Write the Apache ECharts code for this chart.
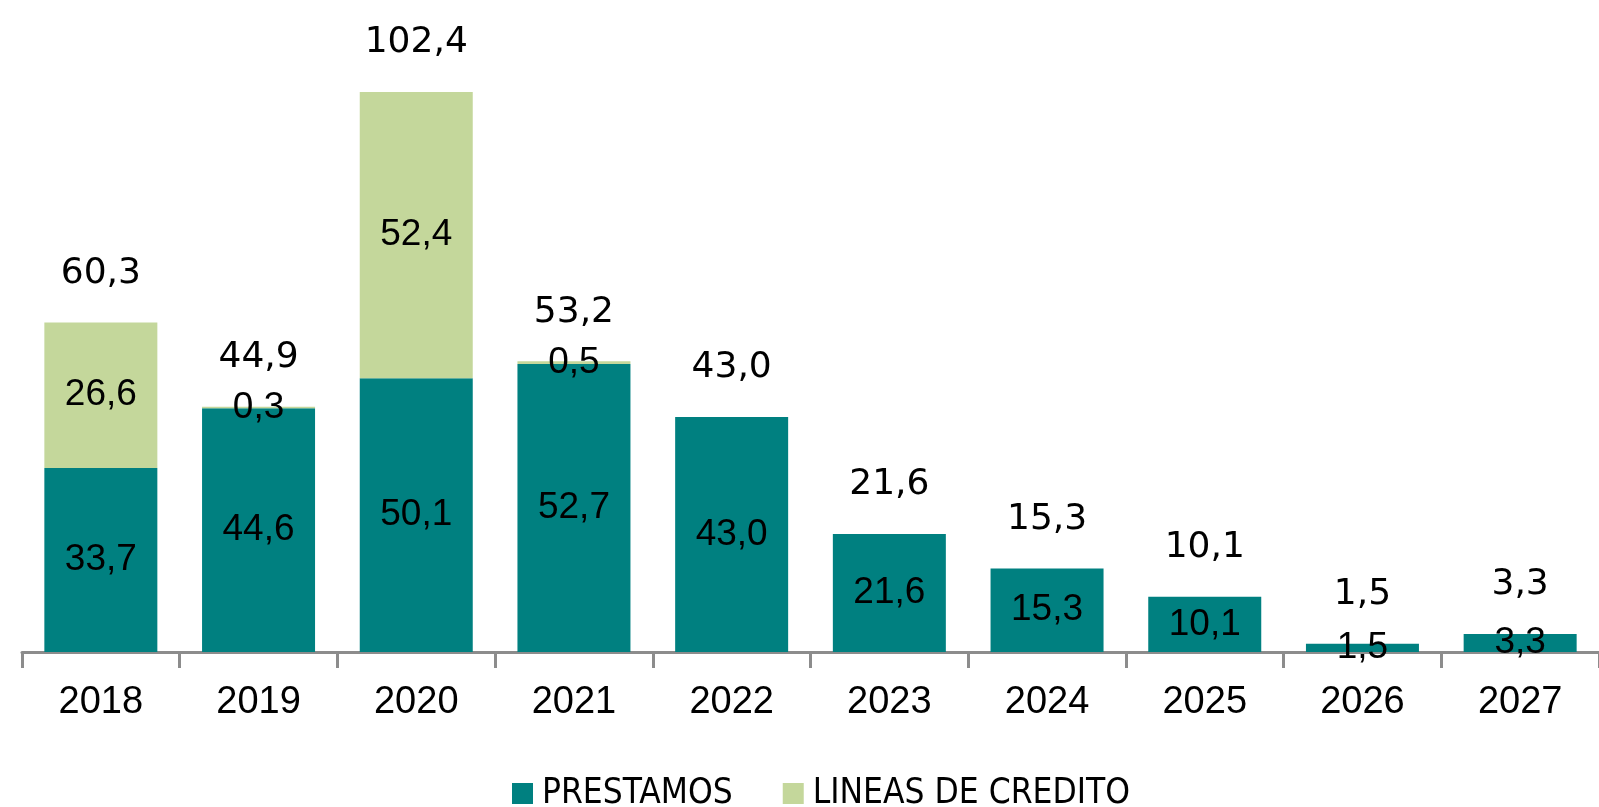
<!DOCTYPE html>
<html>
<head>
    <meta charset="utf-8">
    <title>Prestamos y lineas de credito</title>
    <script src="https://cdn.jsdelivr.net/npm/echarts@6/dist/echarts.min.js"></script>
    <style>
        html, body { margin: 0; padding: 0; background: #fff; }
        #main { width: 1599px; height: 807px; }
    </style>
</head>
<body>
<div id="main"></div>
<script>
    // datos
    var years = ['2018', '2019', '2020', '2021', '2022', '2023', '2024', '2025', '2026', '2027'];
    var prestamos = [33.7, 44.6, 50.1, 52.7, 43.0, 21.6, 15.3, 10.1, 1.5, 3.3];
    var lineas = [26.6, 0.3, 52.4, 0.5, null, null, null, null, null, null];
    var totales = [60.3, 44.9, 102.4, 53.2, 43.0, 21.6, 15.3, 10.1, 1.5, 3.3];

    function coma(v) {
        return v.toFixed(1).replace('.', ',');
    }

    var myChart = echarts.init(document.getElementById('main'));
    var option = {
        animation: false,
        grid: { left: 22, right: -17, top: 51, bottom: 155, containLabel: false },
        legend: {
            data: ['PRESTAMOS', 'LINEAS DE CREDITO'],
            left: 507,
            top: 771,
            icon: 'rect',
            itemWidth: 21,
            itemHeight: 21,
            itemGap: 50,
            textStyle: { fontFamily: '"DejaVu Sans Condensed", "Liberation Sans", sans-serif', fontSize: 35, color: '#000', padding: [0, 0, 0, 4] }
        },
        xAxis: {
            type: 'category',
            data: years,
            axisLine: { show: true, lineStyle: { color: '#8c8c8c', width: 3 } },
            axisTick: { show: true, alignWithLabel: false, length: 16, lineStyle: { color: '#8c8c8c', width: 3 } },
            axisLabel: { margin: 32, fontFamily: 'Liberation Sans', fontSize: 38, color: '#000', interval: 0 }
        },
        yAxis: {
            type: 'value',
            min: 0,
            max: 110,
            show: false,
            splitLine: { show: false }
        },
        series: [
            {
                name: 'PRESTAMOS',
                type: 'bar',
                stack: 'total',
                barWidth: 113,
                data: prestamos,
                itemStyle: { color: '#008080' },
                label: {
                    show: true,
                    position: 'inside',
                    fontFamily: 'Liberation Sans',
                    fontSize: 37,
                    color: '#000',
                    formatter: function (p) { return coma(p.value); }
                }
            },
            {
                name: 'LINEAS DE CREDITO',
                type: 'bar',
                stack: 'total',
                barWidth: 113,
                data: lineas,
                itemStyle: { color: '#c4d79b' },
                label: {
                    show: true,
                    position: 'inside',
                    fontFamily: 'Liberation Sans',
                    fontSize: 37,
                    color: '#000',
                    formatter: function (p) { return coma(p.value); }
                }
            },
            {
                name: 'total',
                type: 'bar',
                stack: 'total',
                barWidth: 113,
                data: totales.map(function () { return 0; }),
                itemStyle: { color: 'rgba(0,0,0,0)' },
                label: {
                    show: true,
                    position: 'top',
                    distance: 31,
                    fontFamily: 'DejaVu Sans',
                    fontSize: 36,
                    color: '#000',
                    formatter: function (p) { return coma(totales[p.dataIndex]); }
                }
            }
        ]
    };
    myChart.setOption(option);
</script>
</body>
</html>
